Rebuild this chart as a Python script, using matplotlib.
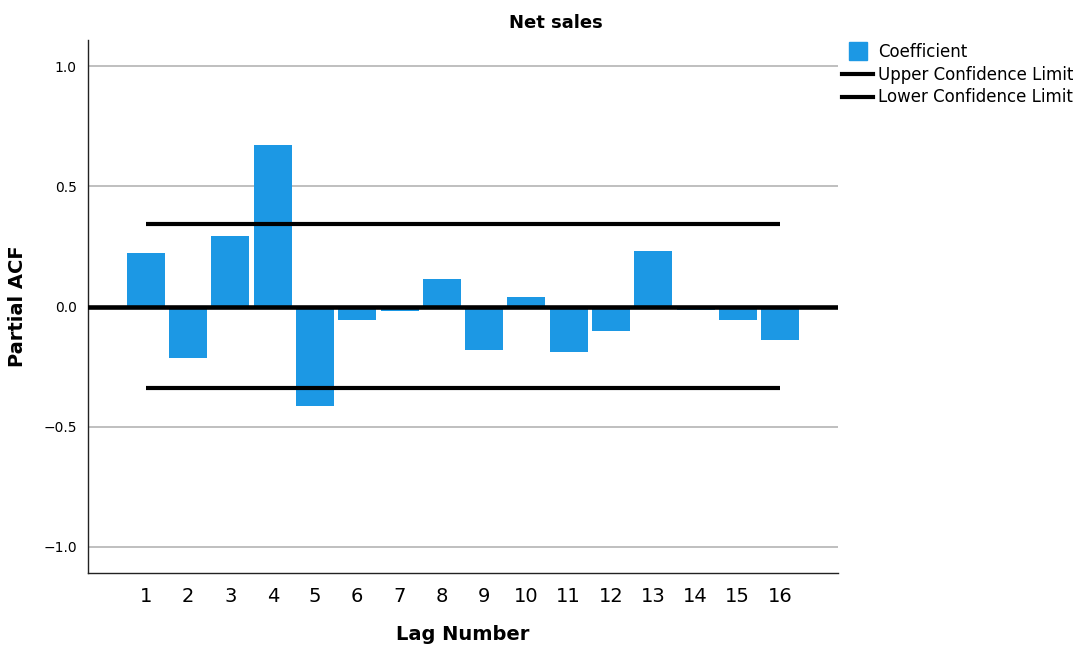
import matplotlib.pyplot as plt
from matplotlib.lines import Line2D

# partial autocorrelations of net sales, lags 1..16
lags = list(range(1, 17))
pacf = [0.221, -0.215, 0.293, 0.671, -0.415, -0.056, -0.018, 0.113,
        -0.182, 0.039, -0.189, -0.101, 0.230, -0.016, -0.056, -0.139]
upper_limit = 0.343
lower_limit = -0.340

yticks = [-1.0, -0.5, 0.0, 0.5, 1.0]
ytick_labels = ['\u22121.0', '\u22120.5', '0.0', '0.5', '1.0']

bar_color = '#1c98e4'

fig = plt.figure(figsize=(10.83, 6.48), dpi=100)
ax = fig.add_axes([88 / 1083, 1 - 573 / 648, 750 / 1083, 533 / 648])

for y in yticks:
    if y != 0:
        ax.axhline(y, color='#b4b4b4', lw=1.2, zorder=0)

ax.bar(lags, pacf, width=0.9, color=bar_color, zorder=2)
ax.axhline(0, color='black', lw=3.3, zorder=3)
ax.hlines([upper_limit], lags[0], lags[-1], color='black', lw=3, zorder=3)
ax.hlines([lower_limit], lags[0], lags[-1], color='black', lw=3, zorder=3)

ax.set_xlim(-0.37, 17.37)
ax.set_ylim(-1.11, 1.11)
ax.set_xticks(lags)
ax.set_xticklabels([str(l) for l in lags], fontsize=14)
ax.set_yticks(yticks)
ax.set_yticklabels(ytick_labels, fontsize=10)
ax.tick_params(length=0, pad=8)
ax.tick_params(axis='x', pad=10)

for side in ['top', 'right']:
    ax.spines[side].set_visible(False)
for side in ['left', 'bottom']:
    ax.spines[side].set_color('#222222')
    ax.spines[side].set_linewidth(1)

fig.text(556 / 1083, 1 - 23 / 648, 'Net sales', fontsize=13, fontweight='bold',
         ha='center', va='center')
ax.set_xlabel('Lag Number', fontsize=14, fontweight='bold', labelpad=14)
ax.set_ylabel('Partial ACF', fontsize=14, fontweight='bold')
ax.yaxis.set_label_coords(-0.081, 0.5)

handles = [
    Line2D([], [], color=bar_color, marker='s', markersize=13, linestyle='none'),
    Line2D([], [], color='black', lw=3),
    Line2D([], [], color='black', lw=3),
]
labels = ['Coefficient', 'Upper Confidence Limit', 'Lower Confidence Limit']
fig.legend(handles, labels, loc='upper left', bbox_to_anchor=(842 / 1083, 1 - 43 / 648),
           frameon=False, fontsize=12, handlelength=1.86, handletextpad=0.3,
           labelspacing=0.28, borderpad=0, borderaxespad=0)

fig.savefig('out.png', dpi=100)
